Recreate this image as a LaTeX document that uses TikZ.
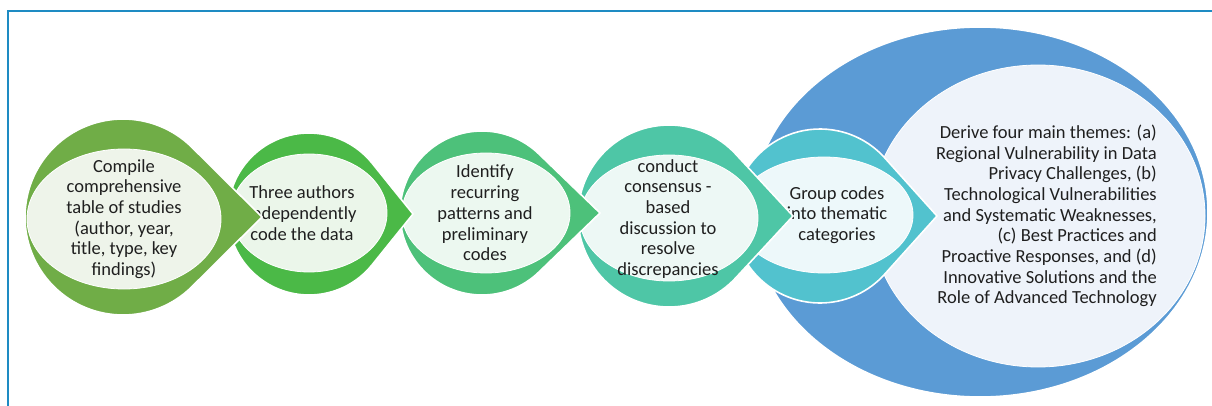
\documentclass[tikz,border=0pt]{standalone}
\usepackage{fontspec}
\setmainfont{Carlito}
\usetikzlibrary{calc}

\definecolor{framec}{HTML}{1E8BC3}
\definecolor{txt}{HTML}{1F1F1F}
\definecolor{outA}{HTML}{70AD47}\definecolor{inA}{HTML}{EEF4EA}
\definecolor{outB}{HTML}{4BB947}\definecolor{inB}{HTML}{EBF6EA}
\definecolor{outC}{HTML}{4DC17A}\definecolor{inC}{HTML}{ECF8F0}
\definecolor{outD}{HTML}{4EC6A6}\definecolor{inD}{HTML}{EDF8F5}
\definecolor{outE}{HTML}{52C2CE}\definecolor{inE}{HTML}{EDF8FA}
\definecolor{outF}{HTML}{5B9BD5}\definecolor{inF}{HTML}{EEF3FA}

\tikzset{
  outer/.style={fill=#1, draw=white, line width=1.6},
  inner/.style={fill=#1, draw=white, line width=0.8},
  label/.style={text=txt, font=\fontsize{18.5}{20.7}\selectfont, inner sep=0pt, align=center},
  framel/.style={draw=framec, line width=2.2}
}

% step shape: circle of radius #3 at (#1,#2) running into a point at x=#4
\newcommand{\stepdrop}[6]{%
  \pgfmathsetmacro{\tang}{acos(#3/(#4-#1))}%
  \path[outer=#5] (#1,#2) ++(\tang:#3)
    arc[start angle=\tang, end angle=360-\tang, radius=#3] -- (#4,#2) -- cycle;}

\begin{document}
\begin{tikzpicture}[x=1pt, y=-1pt]
\useasboundingbox (0,0) rectangle (1212,406);

% frame
\draw[framel] (8,420) -- (8,11) -- (1230,11);

% final stage: the four themes
\path[outer=outF] (980,212) ellipse [x radius=228, y radius=185];
\path[inner=inF] (1038,216) ellipse [x radius=167, y radius=151];
\node[label, align=right, anchor=east] (themes) at (1157,216)
  {Derive four main themes: (a)\\Regional Vulnerability in Data\\Privacy Challenges, (b)\\Technological Vulnerabilities\\and Systematic Weaknesses,\\(c) Best Practices and\\Proactive Responses, and (d)\\Innovative Solutions and the\\Role of Advanced Technology};

% step 5
\stepdrop{820}{216}{87}{937}{outE}{}
\path[inner=inE] (824,215) ellipse [x radius=89, y radius=58];
\node[label] (group) at (837,215) {Group codes\\into thematic\\categories};

% step 4
\stepdrop{669}{216}{91}{793}{outD}{}
\path[inner=inD] (669,218) ellipse [x radius=89, y radius=63];
\node[label] (consensus) at (668,219) {conduct\\consensus -\\based\\discussion to\\resolve\\discrepancies};

% step 3
\stepdrop{482}{213}{82}{600}{outC}{}
\path[inner=inC] (486,213) ellipse [x radius=84, y radius=60];
\node[label] (patterns) at (485,213) {Identify\\recurring\\patterns and\\preliminary\\codes};

% step 2
\stepdrop{309}{214}{81}{413}{outB}{}
\path[inner=inB] (309,213) ellipse [x radius=78, y radius=59];
\node[label] (coding) at (302,213) {Three authors\\independently\\code the data};

% step 1
\stepdrop{123}{217}{98}{262}{outA}{}
\path[inner=inA] (124,219) ellipse [x radius=97, y radius=70];
\node[label] (compile) at (124,219) {Compile\\comprehensive\\table of studies\\(author, year,\\title, type, key\\findings)};

\end{tikzpicture}
\end{document}
